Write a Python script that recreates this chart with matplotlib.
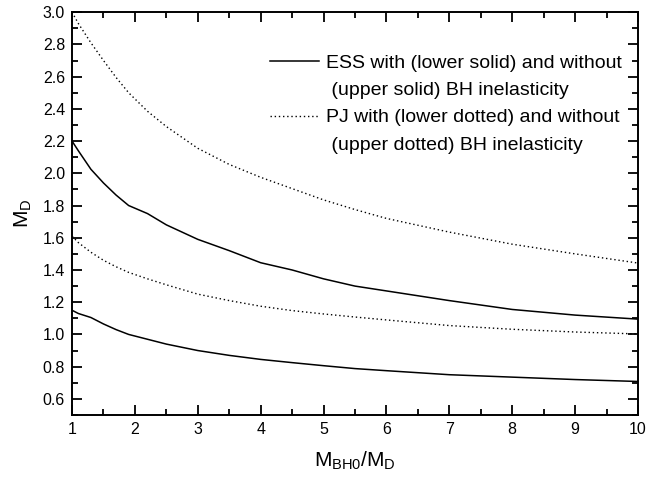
import matplotlib
matplotlib.use("Agg")
import matplotlib.pyplot as plt
from matplotlib.lines import Line2D
from matplotlib.ticker import MultipleLocator

plt.rcParams['font.family'] = ['Liberation Sans', 'DejaVu Sans']
plt.rcParams['mathtext.default'] = 'regular'

x = [1, 1.1, 1.3, 1.5, 1.7, 1.9, 2.2, 2.5, 3, 3.5, 4, 4.5, 5, 5.5, 6, 7, 8, 9, 10]
ess_without = [2.20, 2.14, 2.025, 1.94, 1.865, 1.80, 1.75, 1.68, 1.59, 1.52, 1.445, 1.40,
               1.345, 1.30, 1.27, 1.21, 1.155, 1.12, 1.095]
ess_with = [1.15, 1.13, 1.105, 1.065, 1.03, 1.00, 0.97, 0.94, 0.90, 0.87, 0.845, 0.825,
            0.806, 0.788, 0.775, 0.75, 0.735, 0.72, 0.708]
pj_without = [3.00, 2.93, 2.81, 2.70, 2.595, 2.50, 2.385, 2.29, 2.155, 2.055, 1.975, 1.905,
              1.835, 1.775, 1.72, 1.635, 1.56, 1.50, 1.443]
pj_with = [1.61, 1.57, 1.51, 1.46, 1.42, 1.385, 1.345, 1.308, 1.25, 1.21, 1.175, 1.148,
           1.127, 1.108, 1.09, 1.055, 1.032, 1.015, 1.003]

legend_labels = ["ESS with (lower solid) and without",
                 " (upper solid) BH inelasticity",
                 "PJ with (lower dotted) and without",
                 " (upper dotted) BH inelasticity"]

fig = plt.figure(figsize=(6.49, 4.83), dpi=100)
ax = fig.add_axes([0.111, 0.1408, 0.872, 0.834])

solid = dict(color='black', lw=1.1, linestyle='-')
dotted = dict(color='black', lw=1.0, linestyle=(0, (1, 2)))

ax.plot(x, ess_without, **solid)
ax.plot(x, ess_with, **solid)
ax.plot(x, pj_without, **dotted)
ax.plot(x, pj_with, **dotted)

ax.set_xlim(1, 10)
ax.set_ylim(0.5, 3.0)
ax.xaxis.set_major_locator(MultipleLocator(1))
ax.xaxis.set_minor_locator(MultipleLocator(0.5))
ax.yaxis.set_minor_locator(MultipleLocator(0.1))
yt = [0.6, 0.8, 1.0, 1.2, 1.4, 1.6, 1.8, 2.0, 2.2, 2.4, 2.6, 2.8, 3.0]
ax.set_yticks(yt)
ax.set_yticklabels([f"{v:.1f}" for v in yt])

ax.tick_params(which='both', direction='in', top=True, right=True, width=1.3,
               labelsize=11.5, pad=5)
ax.tick_params(which='major', length=7)
ax.tick_params(which='minor', length=4)
for s in ax.spines.values():
    s.set_linewidth(1.4)

ax.set_xlabel(r'M$_{BH0}$/M$_{D}$', fontsize=15, labelpad=9)
ax.set_ylabel(r'M$_{D}$', fontsize=15, labelpad=6)

handles = [Line2D([], [], **solid),
           Line2D([], [], linestyle='none'),
           Line2D([], [], **dotted),
           Line2D([], [], linestyle='none')]
ax.legend(handles, legend_labels, loc='upper right', bbox_to_anchor=(0.985, 0.915),
          frameon=False, fontsize=14, handlelength=2.5, handletextpad=0.36,
          labelspacing=0.5, borderaxespad=0)

fig.savefig('out.png', dpi=100)
